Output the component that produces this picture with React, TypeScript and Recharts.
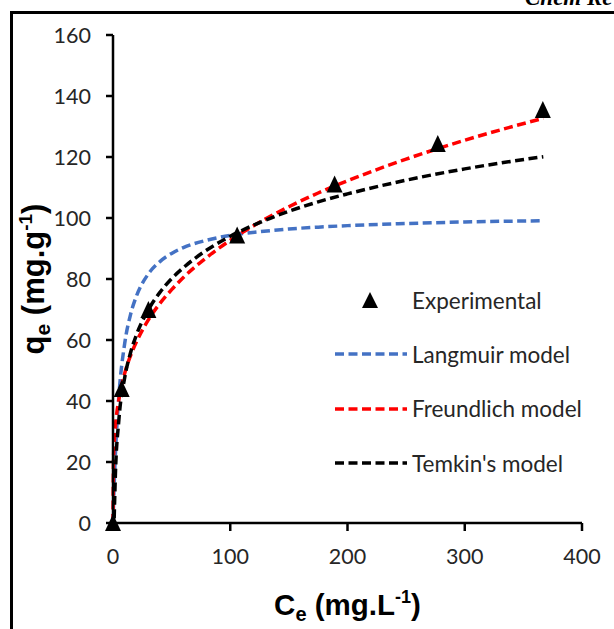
import React from 'react';
import { ComposedChart, Line, Scatter, XAxis, YAxis } from 'recharts';

// Experimental equilibrium points (Ce, qe)
const expC = [0, 7.4, 30.2, 105.9, 189, 277, 366.6];
const expQ = [0, 43.9, 69.8, 94.3, 111, 124.3, 135.4];

// Model curves at these Ce values
const modelC = [0, 0.5, 1, 2, 5, 10, 15, 20, 30, 40, 50, 60, 80, 100, 125, 150, 175, 200, 250, 300, 367];
const langmuirQ = [0, 6.6, 12.4, 22, 41.6, 58.9, 68.4, 74.4, 81.6, 85.7, 88.4, 90.3, 92.7, 94.3, 95.5, 96.4, 97, 97.5, 98.2, 98.7, 99.1];
const freundlichQ = [0, 21.5, 26, 31.5, 40.5, 49.1, 54.9, 59.4, 66.5, 72, 76.5, 80.5, 87.1, 92.7, 98.6, 103.7, 108.2, 112.2, 119.3, 125.5, 132.7];
const temkinQ = [null, null, 1.5, 15.4, 33.8, 47.7, 55.9, 61.7, 69.8, 75.6, 80.1, 83.7, 89.5, 94, 98.5, 102.2, 105.3, 107.9, 112.4, 116.1, 120.1];

const xTicks = [0, 100, 200, 300, 400];
const yTicks = [0, 20, 40, 60, 80, 100, 120, 140, 160];

const seriesNames = ['Experimental', 'Langmuir model', 'Freundlich model', "Temkin's model"];
const COLORS = ['#000000', '#4472C4', '#FF0000', '#000000'];

const expData = expC.map((c, i) => ({ c, q: expQ[i] }));
const toCurve = (qs: (number | null)[]) => modelC.map((c, i) => ({ c, q: qs[i] }));

const TICK_FONT = { fontFamily: 'Lato', fontSize: 21.5, fill: '#262626' };
const AXIS_STROKE = { stroke: '#000', strokeWidth: 2.5 };

const Triangle = (props: any) => {
  const { cx, cy } = props;
  if (cx == null || cy == null) return null;
  return <polygon points={`${cx},${cy - 9} ${cx - 8},${cy + 8} ${cx + 8},${cy + 8}`} fill="#000" />;
};

const XTitle = (props: any) => {
  const { viewBox } = props;
  const x = viewBox.x + viewBox.width / 2;
  return (
    <text x={x} y={615} textAnchor="middle" fontFamily="Liberation Sans" fontWeight="bold" fontSize={29.5} fill="#000">
      <tspan>C</tspan>
      <tspan fontSize={20} dy={6}>e</tspan>
      <tspan dy={-6}> (mg.L</tspan>
      <tspan fontSize={18} dy={-12}>-1</tspan>
      <tspan dy={12}>)</tspan>
    </text>
  );
};

const YTitle = (props: any) => {
  const { viewBox } = props;
  const y = viewBox.y + viewBox.height / 2;
  return (
    <text x={44} y={y} transform={`rotate(-90, 44, ${y})`} textAnchor="middle" fontFamily="Liberation Sans" fontWeight="bold" fontSize={31} fill="#000">
      <tspan>q</tspan>
      <tspan fontSize={21} dy={6}>e</tspan>
      <tspan dy={-6}> (mg.g</tspan>
      <tspan fontSize={19} dy={-12}>-1</tspan>
      <tspan dy={12}>)</tspan>
    </text>
  );
};

const LegendBox = () => (
  <div style={{ position: 'absolute', left: 335, top: 273, fontFamily: 'Lato', fontSize: 22.5, color: '#262626' }}>
    {seriesNames.map((name, i) => (
      <div key={name} style={{ display: 'flex', alignItems: 'center', height: 54.3 }}>
        <svg width={72} height={20} style={{ marginRight: 5 }}>
          {i === 0 ? (
            <polygon points="35,2 27,18 43,18" fill="#000" />
          ) : (
            <line x1={0} y1={10} x2={72} y2={10} stroke={COLORS[i]} strokeWidth={3.5} strokeDasharray="9 4.5" />
          )}
        </svg>
        <span>{name}</span>
      </div>
    ))}
  </div>
);

export default function App() {
  return (
    <div style={{ position: 'absolute', left: 0, top: 0, width: 614, height: 629, overflow: 'hidden', background: '#fff' }}>
      <div style={{ position: 'absolute', left: 10, top: 11, width: 700, height: 700, borderLeft: '3px solid #000', borderTop: '3px solid #000' }} />
      <div style={{ position: 'absolute', left: 525, top: -14, fontFamily: 'Liberation Serif', fontStyle: 'italic', fontWeight: 'bold', fontSize: 23, lineHeight: 1, whiteSpace: 'nowrap' }}>
        Chem Re
      </div>
      <ComposedChart width={614} height={629} margin={{ top: 35, right: 32, bottom: 76, left: 53 }}>
        <XAxis
          type="number"
          dataKey="c"
          domain={[0, 400]}
          ticks={xTicks}
          height={30}
          tickSize={8}
          tickMargin={18}
          tick={TICK_FONT}
          axisLine={AXIS_STROKE}
          tickLine={AXIS_STROKE}
          label={<XTitle />}
        />
        <YAxis
          type="number"
          dataKey="q"
          domain={[0, 160]}
          ticks={yTicks}
          width={60}
          tickSize={7}
          tickMargin={15}
          tick={TICK_FONT}
          axisLine={AXIS_STROKE}
          tickLine={AXIS_STROKE}
          label={<YTitle />}
        />
        <Scatter name={seriesNames[0]} data={expData} dataKey="q" shape={<Triangle />} isAnimationActive={false} />
        <Line name={seriesNames[1]} data={toCurve(langmuirQ)} dataKey="q" stroke={COLORS[1]} strokeWidth={3.5} strokeDasharray="9 4.5" dot={false} type="monotone" isAnimationActive={false} />
        <Line name={seriesNames[2]} data={toCurve(freundlichQ)} dataKey="q" stroke={COLORS[2]} strokeWidth={3.5} strokeDasharray="9 4.5" dot={false} type="monotone" isAnimationActive={false} />
        <Line name={seriesNames[3]} data={toCurve(temkinQ)} dataKey="q" stroke={COLORS[3]} strokeWidth={3.5} strokeDasharray="9 4.5" dot={false} type="monotone" isAnimationActive={false} />
      </ComposedChart>
      <LegendBox />
    </div>
  );
}
